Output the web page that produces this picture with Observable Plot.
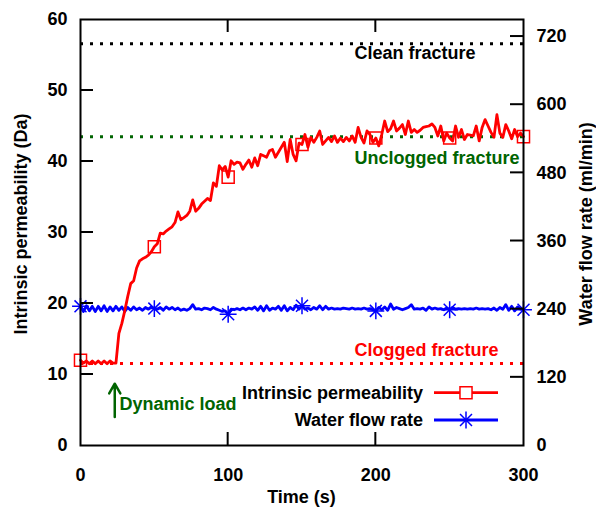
<!DOCTYPE html>
<html><head><meta charset="utf-8">
<script src="https://cdn.jsdelivr.net/npm/d3@7"></script>
<script src="https://cdn.jsdelivr.net/npm/@observablehq/plot@0.6"></script>
<style>body{margin:0;background:#fff}svg{display:block}</style>
</head><body><div id="chart"></div>
<script>
// Time (s)
const time = [0,2,4,6,8,10,12,14,16,18,20,22,24,26,28,30,32,34,36,38,40,42,44,46,48,50,52,54,56,58,60,62,64,66,68,70,72,74,76,78,80,82,84,86,88,90,92,94,96,98,100,102,104,106,108,110,112,114,116,118,120,122,124,126,128,130,132,134,136,138,140,142,144,146,148,150,152,154,156,158,160,162,164,166,168,170,172,174,176,178,180,182,184,186,188,190,192,194,196,198,200,202,204,206,208,210,212,214,216,218,220,222,224,226,228,230,232,234,236,238,240,242,244,246,248,250,252,254,256,258,260,262,264,266,268,270,272,274,276,278,280,282,284,286,288,290,292,294,296,298,300];
// Intrinsic permeability (Da)
const permeability = [
12.0,11.6,11.9,11.5,11.9,11.5,11.9,11.5,11.9,11.5,
11.9,11.6,11.6,15.8,17.2,19.0,21.0,22.8,23.2,25.0,
26.0,26.3,26.5,26.8,27.3,28.0,28.4,29.9,29.8,30.2,
30.5,30.8,31.4,32.9,31.8,32.1,32.4,33.0,34.6,33.0,
33.4,34.0,34.4,34.8,34.5,37.0,36.5,39.4,38.8,39.3,
37.8,40.1,39.6,39.9,39.8,38.9,39.6,40.2,39.2,40.5,
39.4,41.0,40.8,40.6,41.5,41.7,40.6,41.3,42.0,42.7,
40.0,43.1,41.0,40.1,42.6,42.4,43.8,42.0,43.4,42.7,
43.4,44.3,42.4,42.9,43.4,42.8,43.6,42.7,43.3,42.8,
43.4,42.9,43.6,42.7,44.8,43.4,42.6,44.3,43.8,42.7,
43.3,42.2,43.8,45.7,44.2,44.6,45.7,44.3,44.7,45.2,
43.8,45.7,44.1,44.5,44.1,44.4,44.8,44.9,45.0,45.3,
44.8,43.6,45.0,42.9,44.0,43.3,42.9,45.0,43.4,44.5,
43.1,43.8,43.7,43.6,45.0,42.9,44.8,45.9,45.0,44.1,
43.4,46.6,44.0,43.4,45.2,44.3,43.2,44.5,43.5,44.0,
43.5];
// Water flow rate (ml/min)
const flowRate = [
245,236,246,237,245,236,245,237,246,236,
244,237,245,238,244,236,243,238,244,239,
242,238,243,240,244,241,240,243,238,244,
240,243,239,242,238,240,238,241,248,240,
241,239,242,241,239,243,240,238,236,237,
231,240,239,241,239,242,239,242,240,244,
238,245,237,246,238,242,240,245,238,246,
237,243,239,247,240,246,240,242,239,243,
240,246,239,245,240,242,240,241,240,242,
241,240,242,240,241,240,242,240,241,239,
237,243,239,244,238,249,240,243,241,239,
241,243,248,240,241,240,242,238,244,240,
242,240,241,239,242,239,243,240,241,240,
241,240,241,240,242,240,241,240,241,239,
242,238,243,240,248,238,245,237,244,240,
239];
const markerTimes = [0,50,100,150,200,250,300];
const xTicks = [0,100,200,300];
const yTicks = [0,10,20,30,40,50,60];
const rightTicks = [0,120,240,360,480,600,720];
const flowPerDa = 12.5; // right axis = left axis x 12.5
// reference levels (Da)
const refNames = ["Clean fracture","Unclogged fracture","Clogged fracture"];
const refLevels = [56.6, 43.5, 11.55];
const refColors = ["#000000","#006400","#ff0000"];
const refLabelX = [185.5, 185.5, 185.5];
const refLabelY = [55.25, 40.5, 13.4];
// dynamic load annotation
const loadTime = 23.2, loadFrom = 4.0, loadTo = 8.7, loadLabel = "Dynamic load";
const loadLabelX = 26.4, loadLabelY = 5.8;
const seriesNames = ["Intrinsic permeability","Water flow rate"];
const seriesColors = ["#ff0000","#0000ff"];

const perm = time.map((t,i)=>({t, v: permeability[i]}));
const flow = time.map((t,i)=>({t, v: flowRate[i]/flowPerDa}));
const refs = refNames.map((n,i)=>({name:n, level:refLevels[i], color:refColors[i], lx:refLabelX[i], ly:refLabelY[i]}));
const isMarker = d => markerTimes.includes(d.t);

const font = "'Liberation Sans', Arial, Helvetica, sans-serif";
const fs = 18;
const plot = Plot.plot({
  width: 596, height: 511,
  marginLeft: 80, marginRight: 73, marginTop: 19, marginBottom: 66,
  x: {domain: [0,300]},
  y: {domain: [0,60]},
  style: {fontFamily: font, fontSize: fs + "px", fontWeight: "bold", color: "black", background: "white", overflow: "visible"},
  marks: [
    Plot.axisX(xTicks, {anchor: "bottom", tickSize: 0, tickPadding: 23, label: null}),
    Plot.axisY(yTicks, {anchor: "left", tickSize: 0, tickPadding: 13, label: null}),
    Plot.axisY(rightTicks.map(v=>v/flowPerDa), {anchor: "right", tickSize: 0, tickPadding: 13, label: null, tickFormat: d => String(Math.round(d*flowPerDa))}),
    Plot.ruleY(refs, {y: "level", stroke: "color", strokeWidth: 3, strokeDasharray: "3 7"}),
    Plot.text(refs, {x: "lx", y: "ly", text: "name", fill: "color", textAnchor: "start", fontSize: fs, fontWeight: "bold"}),
    Plot.line(flow, {x: "t", y: "v", stroke: seriesColors[1], strokeWidth: 2.8}),
    Plot.dot(flow.filter(isMarker), {x: "t", y: "v", symbol: "plus", r: 5.5, stroke: seriesColors[1], strokeWidth: 1.5}),
    Plot.dot(flow.filter(isMarker), {x: "t", y: "v", symbol: "times", r: 5.5, stroke: seriesColors[1], strokeWidth: 1.5}),
    Plot.line(perm, {x: "t", y: "v", stroke: seriesColors[0], strokeWidth: 2.8}),
    Plot.dot(perm.filter(isMarker), {x: "t", y: "v", symbol: "square", r: 6.8, stroke: seriesColors[0], strokeWidth: 1.5, fill: "none"}),
    Plot.arrow([{t: loadTime, a: loadFrom, b: loadTo}], {x: "t", y1: "a", y2: "b", stroke: "#006400", strokeWidth: 2.5, headLength: 9}),
    Plot.text([{x: loadLabelX, y: loadLabelY, s: loadLabel}], {x: "x", y: "y", text: "s", fill: "#006400", textAnchor: "start", fontSize: fs, fontWeight: "bold"}),
    Plot.frame({stroke: "black", strokeWidth: 2})
  ]
});

const svg = d3.select(plot);
const x = plot.scale("x"), y = plot.scale("y");
const X = v => x.apply(v), Y = v => y.apply(v);
const g = svg.append("g").attr("stroke","black").attr("stroke-width",2);
const tl = 13;
[10,20,30,40,50].forEach(v => g.append("line").attr("x1",X(0)).attr("x2",X(0)+tl).attr("y1",Y(v)).attr("y2",Y(v)));
[120,240,360,480,600,720].forEach(v => g.append("line").attr("x1",X(300)-tl).attr("x2",X(300)).attr("y1",Y(v/flowPerDa)).attr("y2",Y(v/flowPerDa)));
[100,200].forEach(v => {
  g.append("line").attr("x1",X(v)).attr("x2",X(v)).attr("y1",Y(0)).attr("y2",Y(0)-tl);
  g.append("line").attr("x1",X(v)).attr("x2",X(v)).attr("y1",Y(60)).attr("y2",Y(60)+tl);
});
// axis titles
const tg = svg.append("g").attr("font-family",font).attr("font-size",fs).attr("font-weight","bold").attr("fill","black").attr("text-anchor","middle");
const midY = (Y(0)+Y(60))/2 - 8;
tg.append("text").attr("transform",`translate(21,${midY}) rotate(-90)`).attr("dy","0.35em").text("Intrinsic permeability (Da)");
tg.append("text").attr("transform",`translate(586,${midY}) rotate(-90)`).attr("dy","0.35em").text("Water flow rate (ml/min)");
tg.append("text").attr("x",(X(0)+X(300))/2).attr("y",497).attr("dy","0.35em").text("Time (s)");
// legend
const lg = svg.append("g").attr("font-family",font).attr("font-size",fs).attr("font-weight","bold");
const legY = [392.7, 420];
seriesNames.forEach((n,i)=>{
  lg.append("text").attr("x",423).attr("y",legY[i]).attr("dy","0.35em").attr("text-anchor","end").text(n);
  lg.append("line").attr("x1",434).attr("x2",498).attr("y1",legY[i]).attr("y2",legY[i]).attr("stroke",seriesColors[i]).attr("stroke-width",2.8);
  if (i===0) {
    lg.append("path").attr("d",d3.symbol(d3.symbolSquare, Math.PI*6.8*6.8)()).attr("transform",`translate(466,${legY[i]})`).attr("fill","white").attr("stroke",seriesColors[i]).attr("stroke-width",1.5);
  } else {
    [d3.symbolPlus, d3.symbolTimes].forEach(s => lg.append("path").attr("d",d3.symbol(s, Math.PI*5.5*5.5)()).attr("transform",`translate(466,${legY[i]})`).attr("fill","none").attr("stroke",seriesColors[i]).attr("stroke-width",1.5));
  }
});
document.getElementById("chart").appendChild(plot);
</script></body></html>
